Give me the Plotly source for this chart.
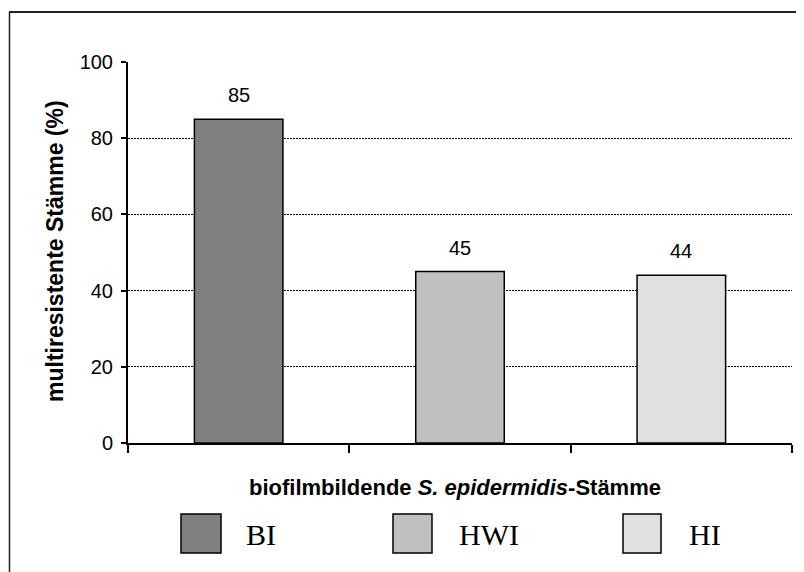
import plotly.graph_objects as go

categories = ["BI", "HWI", "HI"]
values = [85, 45, 44]
bar_colors = ["#808080", "#c0c0c0", "#e0e0e0"]
y_ticks = [0, 20, 40, 60, 80, 100]

# page has an 8px body margin; work in screen pixels and convert
OFF = 8
W, H = 804 - OFF, 572 - OFF
PL, PR, PT, PB = 128, 792, 62, 443  # plot area in screen pixels
L, R, T, B = PL - OFF, W - (PR - OFF), PT - OFF, H - (PB - OFF)
pw, ph = PR - PL, PB - PT

def px(x):
    return (x - PL) / pw

def py(y):
    return (PB - y) / ph

fig = go.Figure()
fig.add_trace(go.Bar(
    x=categories, y=values, width=0.4,
    marker=dict(color=bar_colors, line=dict(color="black", width=1.5)),
    showlegend=False, hoverinfo="skip",
))

annotations = []
for c, v in zip(categories, values):
    annotations.append(dict(x=c, y=v, xref="x", yref="y", text=str(v), showarrow=False,
                            yanchor="bottom", yshift=11,
                            font=dict(family="Arial, Liberation Sans", size=20, color="black")))

annotations.append(dict(x=px(55), y=py(251), xref="paper", yref="paper", textangle=-90,
                        text="<b>multiresistente Stämme (%)</b>", showarrow=False,
                        xanchor="center", yanchor="middle",
                        font=dict(family="Arial, Liberation Sans", size=23, color="black")))
annotations.append(dict(x=px(455), y=py(487), xref="paper", yref="paper",
                        text="<b>biofilmbildende <i>S. epidermidis</i>-Stämme</b>", showarrow=False,
                        xanchor="center", yanchor="middle",
                        font=dict(family="Arial, Liberation Sans", size=22, color="black")))

shapes = []
legend_boxes = [(181, 221), (393, 432), (623, 661)]
legend_text_x = [244, 457, 687]
for (x0, x1), tx, c, col in zip(legend_boxes, legend_text_x, categories, bar_colors):
    shapes.append(dict(type="rect", xref="paper", yref="paper",
                       x0=px(x0), x1=px(x1), y0=py(553), y1=py(514),
                       fillcolor=col, line=dict(color="black", width=1.5)))
    annotations.append(dict(x=px(tx), y=py(534), xref="paper", yref="paper", text=c,
                            showarrow=False, xanchor="left", yanchor="middle",
                            font=dict(family="Liberation Serif, Times New Roman, serif", size=30, color="black")))

# outer frame (top and left lines)
shapes.append(dict(type="line", xref="paper", yref="paper", x0=px(9), x1=px(810),
                   y0=py(12), y1=py(12), line=dict(color="#222", width=2)))
shapes.append(dict(type="line", xref="paper", yref="paper", x0=px(9.5), x1=px(9.5),
                   y0=py(12), y1=py(585), line=dict(color="#222", width=1.5)))

fig.update_layout(
    width=W, height=H, margin=dict(l=L, r=R, t=T, b=B),
    paper_bgcolor="white", plot_bgcolor="white",
    annotations=annotations, shapes=shapes,
    font=dict(family="Arial, Liberation Sans", color="black"),
)
fig.update_xaxes(
    range=[-0.5, 2.5], showticklabels=False, showline=True, linecolor="black", linewidth=2,
    ticks="outside", tickson="boundaries", ticklen=8, tickwidth=2, tickcolor="black",
    showgrid=False, zeroline=False,
)
fig.update_yaxes(
    range=[0, 100], tickvals=y_ticks, showline=True, linecolor="black", linewidth=2,
    ticks="outside", ticklen=5, tickwidth=2, tickcolor="black",
    showgrid=True, gridcolor="black", gridwidth=1, griddash="2px,1px",
    zeroline=False, tickfont=dict(size=20, family="Arial, Liberation Sans", color="black"),
    ticklabelstandoff=4,
)

fig.write_html("out.html")
